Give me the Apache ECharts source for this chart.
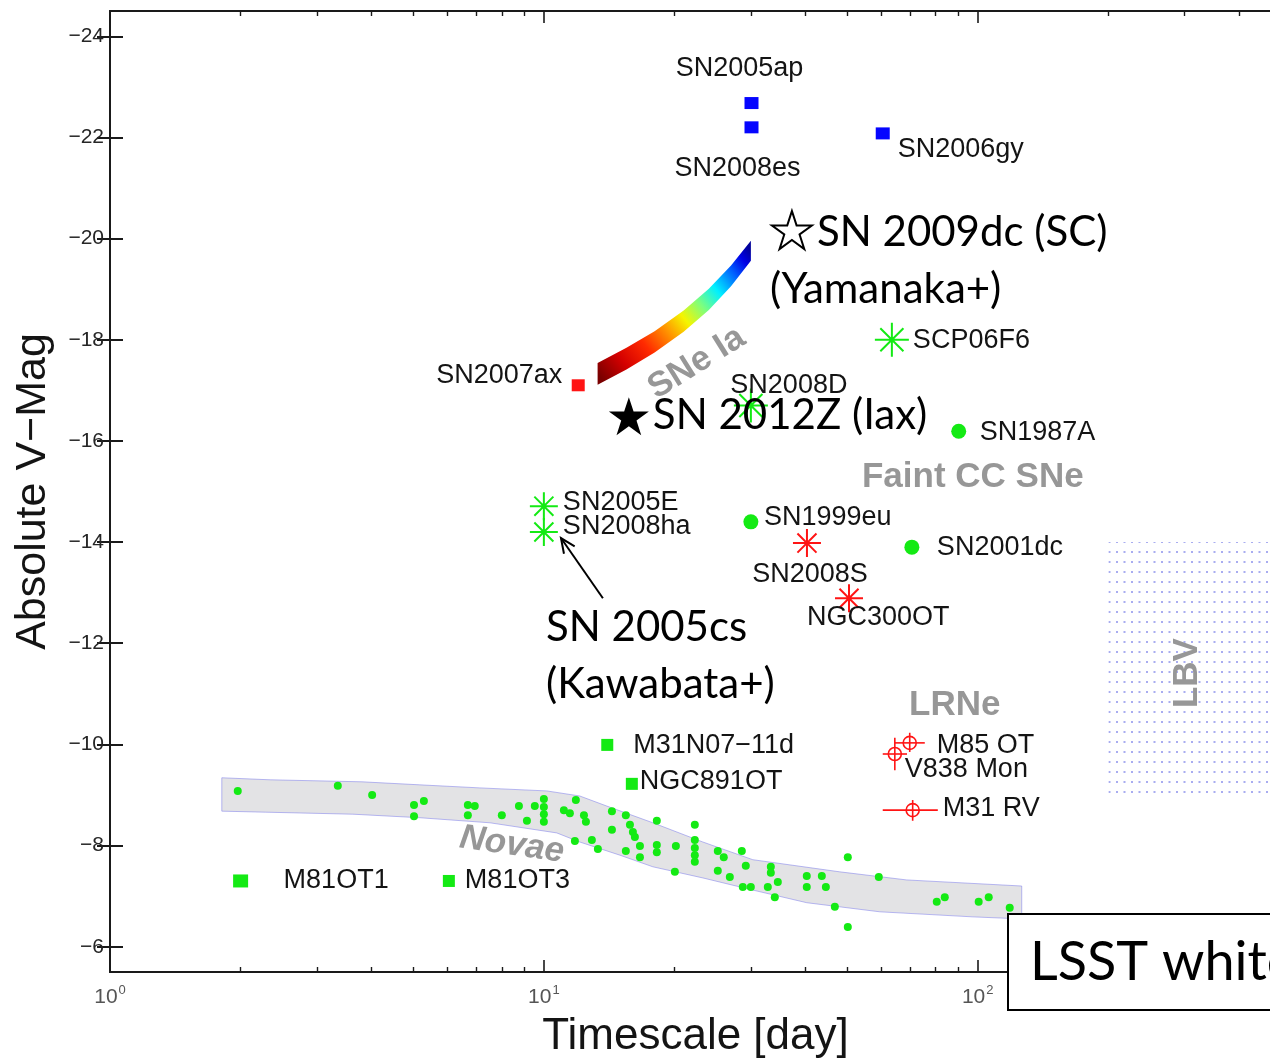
<!DOCTYPE html>
<html>
<head>
<meta charset="utf-8">
<script src="https://cdn.jsdelivr.net/npm/echarts@6.0.0/dist/echarts.min.js"></script>
<style>
  html, body { margin: 0; padding: 0; background: #fff; }
  #chart { width: 1270px; height: 1060px; }
</style>
</head>
<body>
<div id="chart"></div>
<script>
// ---------------- data ----------------
// axis ticks
const yTicks = [-24, -22, -20, -18, -16, -14, -12, -10, -8, -6];
const xMinorTicks = [2, 3, 4, 5, 6, 7, 8, 9, 20, 30, 40, 50, 60, 70, 80, 90, 200, 300, 400, 500];

// [timescale (day), absolute V mag, name]
const superluminous = [[30.1, -22.68, 'SN2005ap'], [30.1, -22.20, 'SN2008es'], [60.4, -22.08, 'SN2006gy']];
const fastIa = [[12.0, -17.10, 'SN2007ax']];
const greenAsterisks = [[63.4, -18.0, 'SCP06F6'], [30.0, -16.7, 'SN2008D'], [10.0, -14.71, 'SN2005E'], [10.0, -14.20, 'SN2008ha']];
const redAsterisks = [[40.4, -13.98, 'SN2008S'], [50.5, -12.89, 'NGC300OT']];
const faintCC = [[90.4, -16.19, 'SN1987A'], [30.0, -14.40, 'SN1999eu'], [70.5, -13.90, 'SN2001dc']];
const otherTransients = [[14.0, -9.99, 'M31N07\u221211d'], [15.95, -9.22, 'NGC891OT'], [2.0, -7.30, 'M81OT1'], [6.04, -7.30, 'M81OT3']];
// LRNe: [day, mag, dayLow, dayHigh, magLow, magHigh, name]
const lrne = [
  [69.7, -10.03, 64.4, 75.5, -10.23, -9.85, 'M85 OT'],
  [64.4, -9.81, 60.4, 68.7, -10.13, -9.49, 'V838 Mon'],
  [70.8, -8.70, 60.4, 80.9, -8.90, -8.49, 'M31 RV']
];
// highlighted objects
const stars = [[37.3, -20.17, 'SN 2009dc (SC)', '(Yamanaka+)'], [15.7, -16.49, 'SN 2012Z (Iax)', '']];
// arrow: tail (day, mag) -> head (day, mag)
const arrow2005cs = [13.68, -12.89, 10.95, -14.08];
const arrowText = ['SN 2005cs', '(Kawabata+)'];

// classical novae
const novae = [
  [1.97, -9.08], [3.35, -9.18], [4.02, -9.00], [5.02, -8.80], [5.29, -8.88], [5.02, -8.58],
  [6.68, -8.80], [6.93, -8.78], [6.68, -8.60], [8.00, -8.60], [8.76, -8.78], [9.14, -8.49],
  [9.53, -8.78], [10.0, -8.92], [10.0, -8.76], [10.0, -8.62], [10.0, -8.47], [11.12, -8.70],
  [11.48, -8.64], [11.85, -8.90], [12.37, -8.60], [12.50, -8.47], [11.79, -8.09], [12.90, -8.11],
  [13.32, -7.93], [14.35, -8.68], [14.35, -8.31], [15.45, -8.60], [15.79, -8.41], [16.04, -8.27],
  [16.21, -8.17], [15.45, -7.89], [16.65, -7.99], [16.65, -7.77], [18.21, -8.49], [18.21, -8.01],
  [18.21, -7.87], [20.15, -7.99], [20.04, -7.48], [22.28, -8.41], [22.28, -8.11], [22.28, -7.95],
  [22.28, -7.81], [22.28, -7.68], [25.17, -7.89], [25.98, -7.77], [25.17, -7.50], [26.83, -7.38],
  [28.59, -7.89], [29.20, -7.60], [28.74, -7.18], [29.99, -7.18], [33.35, -7.58], [33.35, -7.46],
  [34.61, -7.28], [32.82, -7.18], [34.06, -6.98], [40.36, -7.40], [40.36, -7.18], [43.72, -7.40],
  [44.66, -7.18], [46.84, -6.79], [50.18, -7.77], [50.18, -6.39], [59.15, -7.38], [80.45, -6.89],
  [83.95, -6.98], [100.5, -6.89], [106.0, -6.98], [118.5, -6.77]
];
// novae locus (bright and faint edges)
const novaUpper = [[1.81, -9.34], [2.34, -9.30], [3.81, -9.26], [5.18, -9.20], [7.12, -9.14], [10.16, -9.08],
  [12.10, -8.98], [13.97, -8.78], [17.83, -8.45], [23.25, -8.07], [30.31, -7.72], [48.09, -7.48], [68.6, -7.32], [126.3, -7.20]];
const novaLower = [[1.81, -8.68], [2.28, -8.66], [3.63, -8.62], [5.18, -8.55], [7.51, -8.45], [10.71, -8.25],
  [12.10, -8.07], [14.97, -7.81], [17.83, -7.58], [23.25, -7.36], [30.31, -7.12], [40.36, -6.87], [59.46, -6.69], [97.4, -6.59], [126.3, -6.55]];
// SNe Ia width-luminosity strip
const iaDays = [13.3, 15.5, 18, 21, 24, 27, 30];
const iaBright = [-17.54, -17.84, -18.17, -18.58, -19.01, -19.47, -19.96];
const iaFaint = [-17.11, -17.41, -17.75, -18.16, -18.59, -19.06, -19.56];
// LBV domain: [dayMin, dayMax, magBright, magFaint]
const lbvBox = [200, 500, -14, -9];
// class names [day, mag, text, rotation, italic]
const classLabels = [
  [22.5, -17.54, 'SNe Ia', 32, false],
  [97.4, -15.28, 'Faint CC SNe', 0, false],
  [88.5, -10.78, 'LRNe', 0, false],
  [8.44, -8.01, 'Novae', -8, true],
  [304.8, -11.41, 'LBV', 90, false]
];

// ---------------- styles ----------------
const GREEN = '#14ea14', RED = '#ff1414', BLUE = '#0505ff';
const LABEL_FONT = 'Liberation Sans';
const NOTE_FONT = 'Lato';
const TEXT_COLOR = '#141414';
// label offsets from the marker centre: [dx, dy, align]
const labelSpots = {
  'SN2005ap': [-12, -35, 'center'], 'SN2008es': [-14, 41, 'center'], 'SN2006gy': [15, 16, 'left'],
  'SN2007ax': [-16, -10, 'right'], 'SCP06F6': [21, 1, 'left'], 'SN2008D': [38, -20, 'center'],
  'SN1987A': [21, 1, 'left'], 'SN2005E': [19, -4, 'left'], 'SN2008ha': [19, -5, 'left'],
  'SN1999eu': [13, -4, 'left'], 'SN2001dc': [25, 0, 'left'], 'SN2008S': [3, 31, 'center'],
  'NGC300OT': [-42, 19, 'left'], 'M31N07\u221211d': [26, 1, 'left'], 'NGC891OT': [8, -2, 'left'],
  'M81OT1': [43, 0, 'left'], 'M81OT3': [16, 0, 'left'], 'M85 OT': [27, 3, 'left'],
  'V838 Mon': [10, 16, 'left'], 'M31 RV': [30, -2, 'left']
};
const symbolSizes = {
  'SCP06F6': 34, 'SN2008D': 34, 'SN2005E': 28, 'SN2008ha': 28, 'SN2008S': 28, 'NGC300OT': 28,
  'M81OT1': [15, 13]
};
const ASTERISK = 'path://M0,5L10,5M5,0L5,10M1.6,1.6L8.4,8.4M8.4,1.6L1.6,8.4';
const STAR = 'path://M50,0L61.2,34.5L97.6,34.5L68.2,55.9L79.4,90.5L50,69.1L20.6,90.5L31.8,55.9L2.4,34.5L38.8,34.5Z';

function nameLabel(name) {
  const s = labelSpots[name] || [14, 0, 'left'];
  return {
    show: true, position: 'inside', offset: [s[0], s[1]], align: s[2], verticalAlign: 'middle',
    formatter: name, color: TEXT_COLOR, fontFamily: LABEL_FONT, fontSize: 27,
    textBorderWidth: 0, opacity: 1
  };
}

function pointSeries(rows, symbol, defaultSize, itemStyle, z) {
  return {
    type: 'scatter', symbol: symbol, z: z || 5, silent: true,
    itemStyle: Object.assign({ opacity: 1 }, itemStyle),
    data: rows.map(r => ({
      value: [r[0], r[1]], name: r[2],
      symbolSize: symbolSizes[r[2]] || defaultSize,
      label: nameLabel(r[2])
    }))
  };
}

function polygonFrom(upper, lower) {
  return upper.concat(lower.slice().reverse());
}

// dotted texture for the LBV domain
const dotCanvas = document.createElement('canvas');
dotCanvas.width = 15; dotCanvas.height = 10;
(function () {
  const g = dotCanvas.getContext('2d');
  g.fillStyle = 'rgba(140,146,235,0.75)';
  g.fillRect(13.5, 1, 1.5, 2);
  g.fillRect(0, 1, 0.5, 2);
  g.fillRect(6, 1, 2, 2);
})();

const chart = echarts.init(document.getElementById('chart'), null, { renderer: 'canvas' });

const axisLineStyle = { color: '#1a1a1a', width: 2 };
const yMin = -24.5, yMax = -5.5, xMin = 1, xMax = 500;

const option = {
  animation: false,
  backgroundColor: '#fff',
  grid: { left: 110, right: -11, top: 11, bottom: 88, outerBoundsMode: 'none', containLabel: false },
  xAxis: [
    {
      type: 'log', logBase: 10, min: xMin, max: xMax, position: 'bottom',
      axisLine: { show: true, lineStyle: axisLineStyle },
      axisTick: { show: true, inside: true, length: 12, lineStyle: { color: '#1a1a1a', width: 1.6 } },
      axisLabel: {
        margin: 12, color: '#555', fontSize: 21, fontFamily: LABEL_FONT,
        formatter: function (v) {
          const e = Math.round(Math.log10(v));
          if (Math.abs(Math.log10(v) - e) > 1e-6) return '';
          return '{b|10}{s|' + e + '}';
        },
        rich: {
          b: { fontSize: 21, color: '#555', fontFamily: LABEL_FONT, lineHeight: 24, verticalAlign: 'bottom' },
          s: { fontSize: 13, color: '#555', fontFamily: LABEL_FONT, lineHeight: 24, verticalAlign: 'top', padding: [0, 0, 0, 1] }
        }
      },
      splitLine: { show: false },
      name: 'Timescale [day]', nameLocation: 'middle', nameGap: 43,
      nameTextStyle: { fontSize: 44, color: '#141414', fontFamily: LABEL_FONT }
    },
    {
      type: 'value', min: 0, max: Math.log10(xMax), position: 'bottom',
      axisLine: { show: false },
      axisTick: { show: true, inside: true, length: 5, customValues: xMinorTicks.map(Math.log10), lineStyle: { color: '#1a1a1a', width: 1.4 } },
      axisLabel: { show: false }, splitLine: { show: false }
    },
    {
      type: 'log', logBase: 10, min: xMin, max: xMax, position: 'top',
      axisLine: { show: true, lineStyle: axisLineStyle },
      axisTick: { show: true, inside: true, length: 12, lineStyle: { color: '#1a1a1a', width: 1.6 } },
      axisLabel: { show: false }, splitLine: { show: false }
    },
    {
      type: 'value', min: 0, max: Math.log10(xMax), position: 'top',
      axisLine: { show: false },
      axisTick: { show: true, inside: true, length: 5, customValues: xMinorTicks.map(Math.log10), lineStyle: { color: '#1a1a1a', width: 1.4 } },
      axisLabel: { show: false }, splitLine: { show: false }
    }
  ],
  yAxis: [
    {
      type: 'value', min: yMin, max: yMax, inverse: true, position: 'left',
      axisLine: { show: true, lineStyle: axisLineStyle },
      axisTick: { show: true, inside: true, length: 13, customValues: yTicks, lineStyle: { color: '#1a1a1a', width: 2 } },
      axisLabel: {
        customValues: yTicks, margin: 6, color: '#262626', fontSize: 21, fontFamily: LABEL_FONT,
        formatter: v => '\u2212' + Math.abs(v)
      },
      splitLine: { show: false },
      name: 'Absolute V\u2212Mag', nameLocation: 'middle', nameGap: 55, nameRotate: 90,
      nameTextStyle: { fontSize: 43, color: '#141414', fontFamily: LABEL_FONT }
    },
    {
      type: 'value', min: yMin, max: yMax, inverse: true, position: 'right',
      axisLine: { show: true, lineStyle: axisLineStyle },
      axisTick: { show: true, inside: true, length: 13, customValues: yTicks, lineStyle: { color: '#1a1a1a', width: 2 } },
      axisLabel: { show: false }, splitLine: { show: false }
    }
  ],
  series: [
    // novae locus
    {
      type: 'custom', z: 1, silent: true,
      data: [novaUpper[0]],
      renderItem: function (params, api) {
        const pts = polygonFrom(novaUpper, novaLower).map(p => api.coord(p));
        return {
          type: 'polygon', shape: { points: pts },
          style: { fill: '#e3e3e5', stroke: 'rgba(130,130,235,0.55)', lineWidth: 1 }
        };
      }
    },
    // LBV domain
    {
      type: 'custom', z: 1, silent: true,
      data: [[lbvBox[0], lbvBox[2]]],
      renderItem: function (params, api) {
        const a = api.coord([lbvBox[0], lbvBox[2]]);
        const b = api.coord([lbvBox[1], lbvBox[3]]);
        return {
          type: 'rect', shape: { x: a[0], y: a[1], width: b[0] - a[0], height: b[1] - a[1] },
          style: { fill: { type: 'pattern', image: dotCanvas, repeat: 'repeat' } }
        };
      }
    },
    // SNe Ia strip
    {
      type: 'custom', z: 2, silent: true,
      data: [[iaDays[0], iaBright[0]]],
      renderItem: function (params, api) {
        const upper = iaDays.map((d, i) => [d, iaBright[i]]);
        const lower = iaDays.map((d, i) => [d, iaFaint[i]]);
        const pts = polygonFrom(upper, lower).map(p => api.coord(p));
        const n = iaDays.length - 1;
        const p0 = api.coord([iaDays[0], (iaBright[0] + iaFaint[0]) / 2]);
        const p1 = api.coord([iaDays[n], (iaBright[n] + iaFaint[n]) / 2]);
        const grad = new echarts.graphic.LinearGradient(p0[0], p0[1], p1[0], p1[1], [
          { offset: 0, color: '#7a0000' }, { offset: 0.14, color: '#d40000' },
          { offset: 0.28, color: '#ff2a00' }, { offset: 0.42, color: '#ff9a00' },
          { offset: 0.52, color: '#f5f500' }, { offset: 0.63, color: '#7dff7d' },
          { offset: 0.74, color: '#00f0ff' }, { offset: 0.86, color: '#0060ff' },
          { offset: 0.94, color: '#0000e6' }, { offset: 1, color: '#00009a' }
        ], true);
        return { type: 'polygon', shape: { points: pts }, style: { fill: grad } };
      }
    },
    // novae
    {
      type: 'scatter', z: 3, silent: true, symbol: 'circle', symbolSize: 8,
      itemStyle: { color: GREEN, opacity: 1 }, data: novae
    },
    pointSeries(superluminous, 'rect', [14, 12], { color: BLUE }),
    pointSeries(fastIa, 'rect', [13, 12], { color: RED }),
    pointSeries(greenAsterisks, ASTERISK, 28, { color: 'transparent', borderColor: GREEN, borderWidth: 2 }),
    pointSeries(redAsterisks, ASTERISK, 28, { color: 'transparent', borderColor: RED, borderWidth: 2 }),
    pointSeries(faintCC, 'circle', 15, { color: GREEN }),
    pointSeries(otherTransients, 'rect', [12, 12], { color: GREEN }),
    // LRNe with error bars
    {
      type: 'custom', z: 5, silent: true,
      data: lrne.map(r => r.slice(0, 6)),
      renderItem: function (params, api) {
        const r = lrne[params.dataIndex];
        const c = api.coord([r[0], r[1]]);
        const h0 = api.coord([r[2], r[1]]), h1 = api.coord([r[3], r[1]]);
        const v0 = api.coord([r[0], r[4]]), v1 = api.coord([r[0], r[5]]);
        const s = labelSpots[r[6]];
        const lw = { stroke: RED, lineWidth: 1.6, fill: null };
        return {
          type: 'group', children: [
            { type: 'line', shape: { x1: h0[0], y1: h0[1], x2: h1[0], y2: h1[1] }, style: lw },
            { type: 'line', shape: { x1: v0[0], y1: v0[1], x2: v1[0], y2: v1[1] }, style: lw },
            { type: 'circle', shape: { cx: c[0], cy: c[1], r: 6.5 }, style: { stroke: RED, lineWidth: 1.6, fill: 'rgba(0,0,0,0)' } },
            { type: 'text', x: c[0] + s[0], y: c[1] + s[1],
              style: { text: r[6], fill: TEXT_COLOR, font: '27px "' + LABEL_FONT + '"', align: 'left', verticalAlign: 'middle' } }
          ]
        };
      }
    },
    // highlighted supernovae (stars)
    {
      type: 'scatter', z: 8, silent: true, symbol: STAR,
      itemStyle: { opacity: 1 },
      data: stars.map((r, i) => ({
        value: [r[0], r[1]],
        symbolSize: [40, 38],
        itemStyle: i === 0 ? { color: '#fff', borderColor: '#000', borderWidth: 2, opacity: 1 } : { color: '#000', opacity: 1 },
        label: i === 0 ? {
          show: true, position: 'inside', offset: [-22, 31], align: 'left', verticalAlign: 'middle',
          formatter: '{i|}{t|' + r[2] + '}\n{t|' + r[3] + '}',
          rich: { i: { width: 47 }, t: { fontFamily: NOTE_FONT, fontSize: 42, color: '#000', lineHeight: 57 } }
        } : {
          show: true, position: 'inside', offset: [24, -1], align: 'left', verticalAlign: 'middle',
          formatter: r[2], fontFamily: NOTE_FONT, fontSize: 42, color: '#000'
        }
      }))
    },
    // arrow to SN 2005cs with its note
    {
      type: 'custom', z: 8, silent: true,
      data: [arrow2005cs],
      renderItem: function (params, api) {
        const t = api.coord([arrow2005cs[0], arrow2005cs[1]]);
        const h = api.coord([arrow2005cs[2], arrow2005cs[3]]);
        const ang = Math.atan2(t[1] - h[1], t[0] - h[0]);
        const L = 16, spread = 0.42;
        const a1 = [h[0] + L * Math.cos(ang + spread), h[1] + L * Math.sin(ang + spread)];
        const a2 = [h[0] + L * Math.cos(ang - spread), h[1] + L * Math.sin(ang - spread)];
        const st = { stroke: '#000', lineWidth: 2, fill: null };
        return {
          type: 'group', children: [
            { type: 'line', shape: { x1: t[0], y1: t[1], x2: h[0], y2: h[1] }, style: st },
            { type: 'polyline', shape: { points: [a1, h, a2] }, style: st },
            { type: 'text', x: t[0] - 57, y: t[1] + 58,
              style: { text: arrowText.join('\n'), fill: '#000', font: '42px ' + NOTE_FONT, lineHeight: 57, align: 'left', verticalAlign: 'middle' } }
          ]
        };
      }
    },
    // class names
    {
      type: 'scatter', z: 4, silent: true, symbolSize: 1,
      itemStyle: { color: 'rgba(0,0,0,0)', opacity: 1 },
      data: classLabels.map(r => ({
        value: [r[0], r[1]],
        label: {
          show: true, position: 'inside', rotate: r[3], formatter: r[2],
          color: '#979797', fontFamily: LABEL_FONT, fontSize: 35, fontWeight: 'bold',
          fontStyle: r[4] ? 'italic' : 'normal', align: 'center', verticalAlign: 'middle'
        }
      }))
    }
  ],
  graphic: [
    { type: 'rect', z: 100, shape: { x: 1008, y: 914, width: 300, height: 96 },
      style: { fill: '#fff', stroke: '#000', lineWidth: 2 } },
    { type: 'text', z: 101, x: 1030, y: 963,
      style: { text: 'LSST white paper', font: '54px ' + NOTE_FONT, fill: '#000', verticalAlign: 'middle' } }
  ]
};

chart.setOption(option);
</script>
</body>
</html>
